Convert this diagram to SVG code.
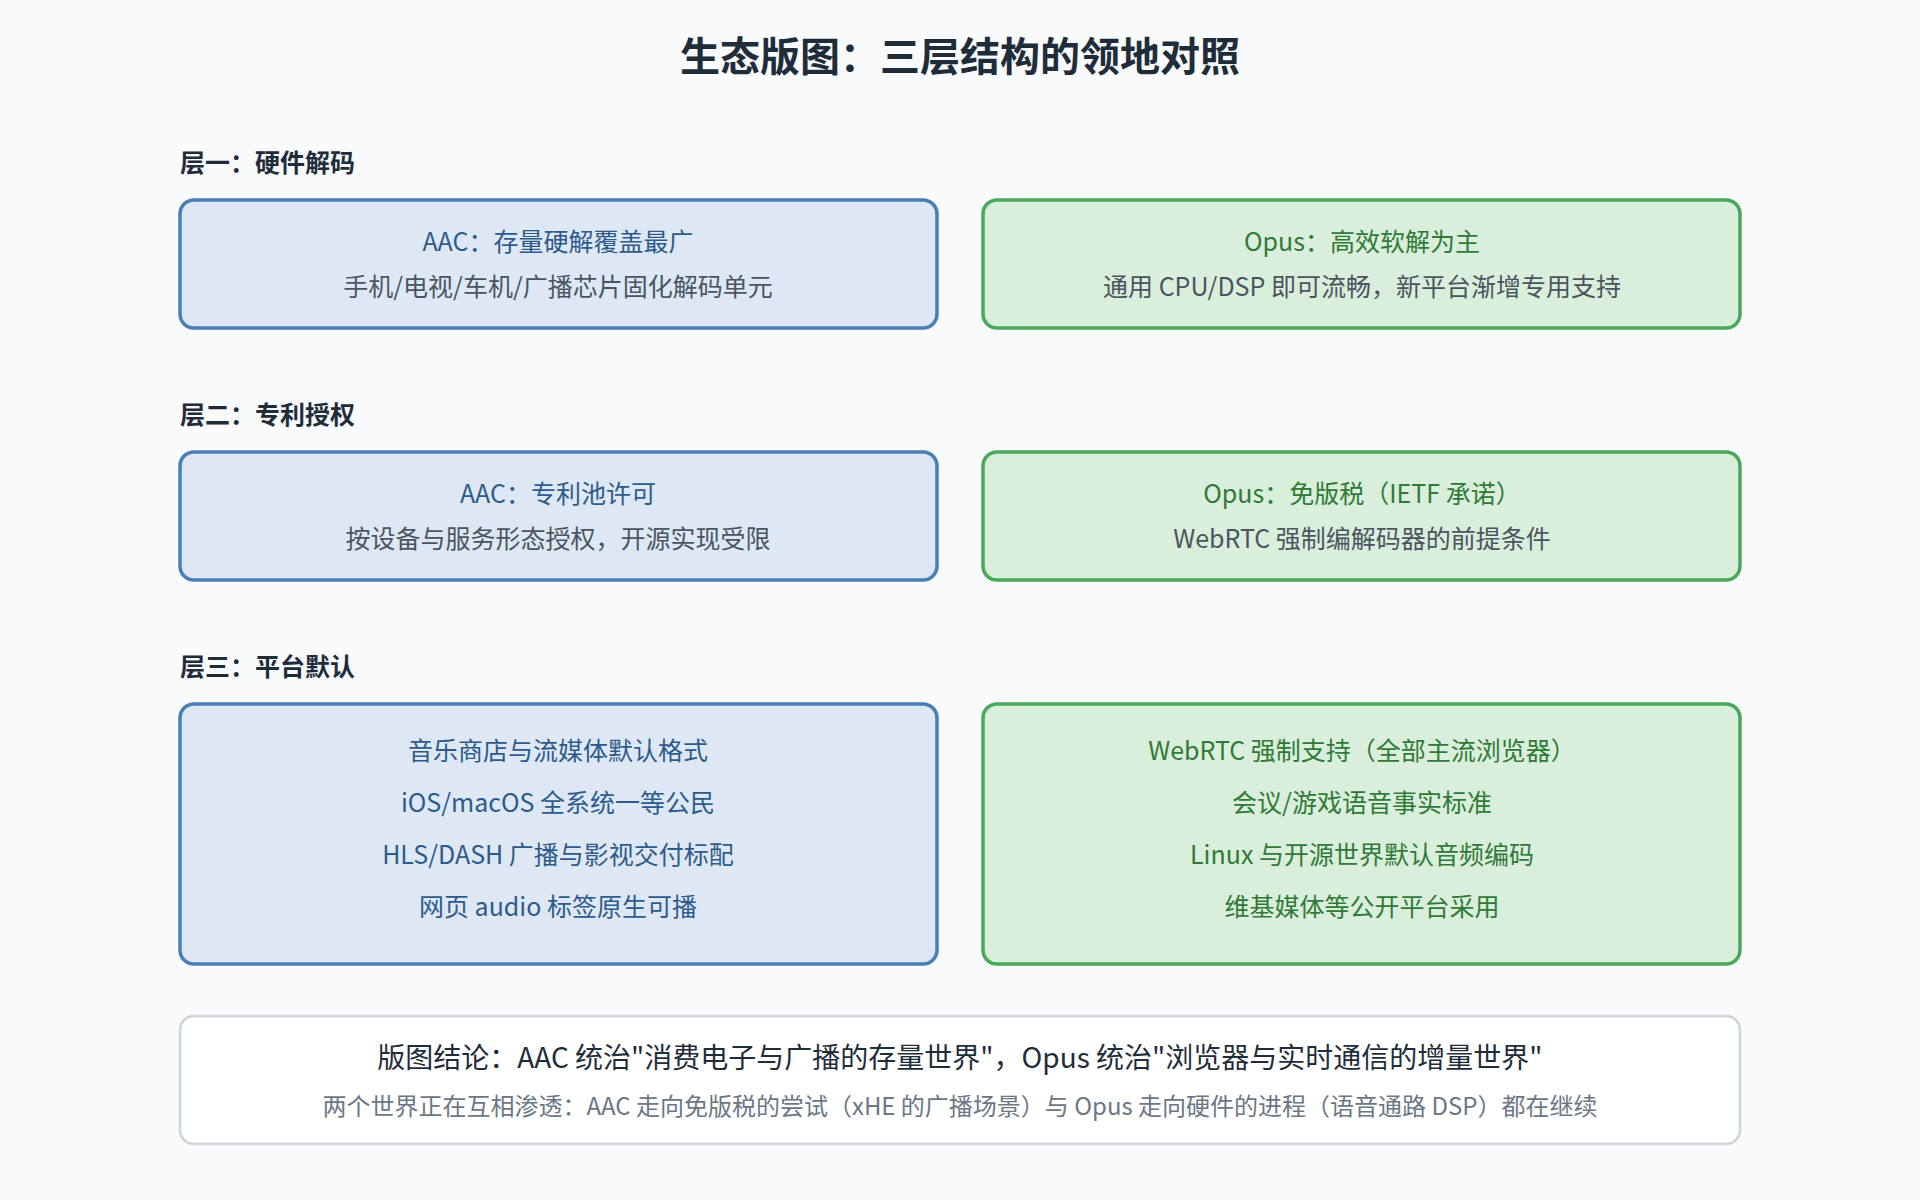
<svg xmlns="http://www.w3.org/2000/svg" width="1920" height="1200" viewBox="0 0 1920 1200">
<style>
text{font-family:"Noto Sans CJK SC","Noto Sans",sans-serif;text-anchor:middle}
.t{font-size:40px;font-weight:bold;fill:#1f2d3a}
.h{font-size:25px;font-weight:bold;fill:#1f2d3a;text-anchor:start}
.b{fill:#dde8f4;stroke:#4a7eb6;stroke-width:3.5}
.g{fill:#d9eedb;stroke:#4aa85a;stroke-width:3.5}
.bt{font-size:25px;fill:#2d5b8c}
.gt{font-size:25px;fill:#2f7a37}
.s{font-size:25px;fill:#4a5560}
.c{fill:#fff;stroke:#cfd4da;stroke-width:2.5}
</style>
<rect width="1920" height="1200" fill="#f8fafc"/>
<text class="t" x="960" y="71">生态版图：三层结构的领地对照</text>
<text class="h" x="180" y="172">层一：硬件解码</text>
<text class="h" x="180" y="424">层二：专利授权</text>
<text class="h" x="180" y="676">层三：平台默认</text>
<g id="aac-hw"><rect class="b" x="180" y="200" width="757" height="128" rx="14"/>
<text class="bt" x="558" y="251">AAC：存量硬解覆盖最广</text>
<text class="s" x="558" y="296">手机/电视/车机/广播芯片固化解码单元</text></g>
<g id="opus-hw"><rect class="g" x="983" y="200" width="757" height="128" rx="14"/>
<text class="gt" x="1362" y="251">Opus：高效软解为主</text>
<text class="s" x="1362" y="296">通用 CPU/DSP 即可流畅，新平台渐增专用支持</text></g>
<g id="aac-pat"><rect class="b" x="180" y="452" width="757" height="128" rx="14"/>
<text class="bt" x="558" y="503">AAC：专利池许可</text>
<text class="s" x="558" y="548">按设备与服务形态授权，开源实现受限</text></g>
<g id="opus-pat"><rect class="g" x="983" y="452" width="757" height="128" rx="14"/>
<text class="gt" x="1362" y="503">Opus：免版税（IETF 承诺）</text>
<text class="s" x="1362" y="548">WebRTC 强制编解码器的前提条件</text></g>
<g id="aac-plat"><rect class="b" x="180" y="704" width="757" height="260" rx="14"/>
<text class="bt" x="558" y="760">音乐商店与流媒体默认格式</text>
<text class="bt" x="558" y="812">iOS/macOS 全系统一等公民</text>
<text class="bt" x="558" y="864">HLS/DASH 广播与影视交付标配</text>
<text class="bt" x="558" y="916">网页 audio 标签原生可播</text></g>
<g id="opus-plat"><rect class="g" x="983" y="704" width="757" height="260" rx="14"/>
<text class="gt" x="1362" y="760">WebRTC 强制支持（全部主流浏览器）</text>
<text class="gt" x="1362" y="812">会议/游戏语音事实标准</text>
<text class="gt" x="1362" y="864">Linux 与开源世界默认音频编码</text>
<text class="gt" x="1362" y="916">维基媒体等公开平台采用</text></g>
<g id="conclusion"><rect class="c" x="180" y="1016" width="1560" height="128" rx="14"/>
<text x="960" y="1068" style="font-size:28px;fill:#1f2d3a">版图结论：AAC 统治"消费电子与广播的存量世界"，Opus 统治"浏览器与实时通信的增量世界"</text>
<text x="960" y="1115" style="font-size:24px;fill:#6b7785">两个世界正在互相渗透：AAC 走向免版税的尝试（xHE 的广播场景）与 Opus 走向硬件的进程（语音通路 DSP）都在继续</text></g>
<g id="connectors"/>
</svg>
